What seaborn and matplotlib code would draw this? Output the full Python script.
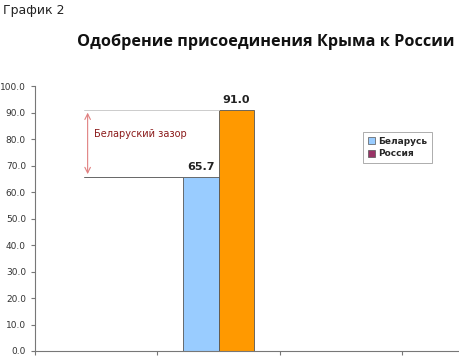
import pandas as pd
import seaborn as sns
import matplotlib.pyplot as plt
from matplotlib.patches import Patch

# data
countries = ["Беларусь", "Россия"]
approval = [65.7, 91.0]
bar_colors = ["#99CCFF", "#FF9900"]
legend_colors = ["#99CCFF", "#993366"]
yticks = [0, 10, 20, 30, 40, 50, 60, 70, 80, 90, 100]

df = pd.DataFrame({"group": ["", ""], "country": countries, "value": approval})

sns.set_style("white")
plt.rcParams["font.family"] = ["DejaVu Sans"]

fig = plt.figure(figsize=(4.6, 3.6), dpi=100)
ax = fig.add_axes([0.076, 0.025, 0.924, 0.736])

sns.barplot(data=df, x="group", y="value", hue="country", palette=bar_colors,
            saturation=1, width=0.58, edgecolor="#555555", linewidth=0.6,
            legend=False, ax=ax)

ax.set_xlim(-1.5, 1.97)
ax.set_ylim(0, 100)
ax.set_yticks(yticks)
ax.set_yticklabels([f"{t:.1f}" for t in yticks], fontsize=6.5, color="#333333")
ax.set_xticks([-1.5, -0.5, 0.5, 1.5])
ax.set_xticklabels([])
ax.tick_params(axis="both", direction="out", length=3, width=0.8, color="#777777", left=True, bottom=True)
ax.set_xlabel("")
ax.set_ylabel("")
for s in ["top", "right"]:
    ax.spines[s].set_visible(False)
for s in ["left", "bottom"]:
    ax.spines[s].set_color("#777777")
    ax.spines[s].set_linewidth(0.8)

# value labels
bars = ax.patches
for p, v in zip(bars, approval):
    ax.text(p.get_x() + p.get_width() / 2, v + 2, f"{v:.1f}", ha="center", va="bottom",
            fontsize=8, fontweight="bold", color="#222222")

# gap annotation
b_left = bars[0].get_x()
r_left = bars[1].get_x()
ax.plot([-1.1, b_left], [approval[0], approval[0]], color="#666666", lw=0.7)
ax.plot([-1.1, r_left], [approval[1], approval[1]], color="#CCCCCC", lw=0.7)
ax.annotate("", xy=(-1.07, approval[1]), xytext=(-1.07, approval[0]),
            arrowprops=dict(arrowstyle="<->", color="#E08080", lw=0.8))
ax.text(-1.02, 82, "Беларуский зазор", fontsize=7, color="#8B1A1A", va="center", ha="left")

# legend
handles = [Patch(facecolor=c, edgecolor="#555555", linewidth=0.5) for c in legend_colors]
leg = ax.legend(handles, countries, loc="upper left", bbox_to_anchor=(0.772, 0.826),
                borderaxespad=0, prop={"weight": "bold", "size": 6.5}, frameon=True,
                fancybox=False, handlelength=0.8, handleheight=0.8, handletextpad=0.4,
                borderpad=0.5, labelspacing=0.4)
leg.get_frame().set_edgecolor("#888888")
leg.get_frame().set_linewidth(0.6)

fig.text(0.007, 0.972, "График 2", fontsize=9, color="#222222", va="center", ha="left")
fig.text(0.578, 0.883, "Одобрение присоединения Крыма к России", fontsize=11.7,
         fontweight="bold", family="Open Sans", va="center", ha="center", color="#111111")

fig.savefig("out.png", dpi=100)
